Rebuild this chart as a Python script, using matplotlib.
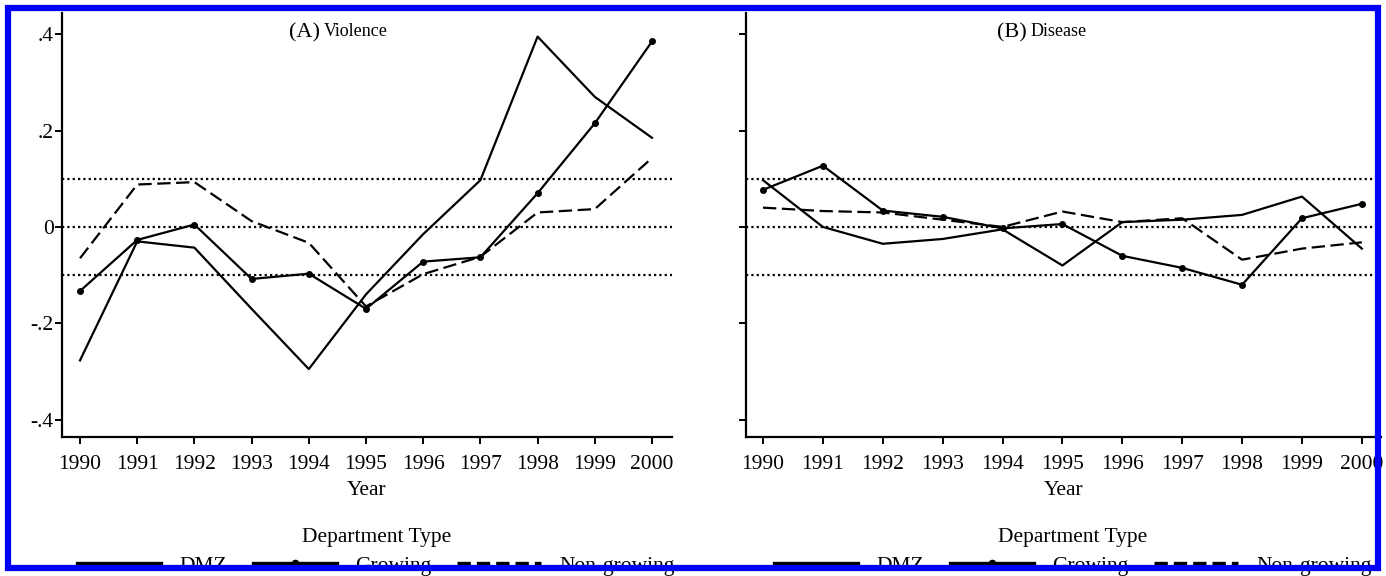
import numpy as np
import matplotlib
matplotlib.use('Agg')
import matplotlib.pyplot as plt
from matplotlib.lines import Line2D
from matplotlib.patches import Rectangle

plt.rcParams['font.family'] = ['Liberation Serif', 'DejaVu Serif']

# ------------------------------------------------------------
# DATA
# ------------------------------------------------------------
years = [1990, 1991, 1992, 1993, 1994, 1995, 1996, 1997, 1998, 1999, 2000]
year_labels = [str(y) for y in years]

# (A) Violence
viol_dmz = [-0.277, -0.030, -0.043, -0.170, -0.295, -0.140, -0.015, 0.097, 0.395, 0.270, 0.185]
viol_growing = [-0.133, -0.027, 0.005, -0.108, -0.097, -0.170, -0.072, -0.063, 0.070, 0.215, 0.385]
viol_nongrowing = [-0.065, 0.088, 0.093, 0.012, -0.033, -0.165, -0.098, -0.062, 0.030, 0.037, 0.143]

# (B) Disease
dis_dmz = [0.097, 0.000, -0.035, -0.025, -0.005, -0.080, 0.010, 0.015, 0.025, 0.063, -0.045]
dis_growing = [0.077, 0.127, 0.034, 0.021, -0.003, 0.006, -0.060, -0.085, -0.120, 0.018, 0.048]
dis_nongrowing = [0.040, 0.033, 0.030, 0.015, 0.000, 0.032, 0.010, 0.018, -0.068, -0.045, -0.032]

ref_levels = [-0.1, 0.0, 0.1]
y_ticks = [-0.4, -0.2, 0.0, 0.2, 0.4]
y_tick_labels = ['-.4', '-.2', '0', '.2', '.4']

series_names = ['DMZ', 'Growing', 'Non-growing']

# ------------------------------------------------------------
# STYLES
# ------------------------------------------------------------
LW = 1.6
styles = {
    'DMZ': dict(color='black', lw=LW, ls='-'),
    'Growing': dict(color='black', lw=LW, ls='-', marker='o', ms=4),
    'Non-growing': dict(color='black', lw=LW, ls=(0, (6, 2.5))),
}
# legend handles are drawn a bit heavier, as in the original
legend_styles = {
    'DMZ': dict(color='black', lw=2.4, ls='-'),
    'Growing': dict(color='black', lw=2.4, ls='-', marker='o', ms=4.5),
    'Non-growing': dict(color='black', lw=2.4, ls=(0, (4, 1.8))),
}

fig = plt.figure(figsize=(13.86, 5.76), dpi=100)
W, H = 1386, 576

def px_axes(x0, x1, ytop, ybot):
    return fig.add_axes([x0 / W, 1 - ybot / H, (x1 - x0) / W, (ybot - ytop) / H])

ax1 = px_axes(62, 672, 13, 437)
ax2 = px_axes(746, 1381, 13, 437)

panels = [
    (ax1, '(A)', 'Violence', [viol_dmz, viol_growing, viol_nongrowing], True,
     (1989.685, 2000.35)),
    (ax2, '(B)', 'Disease', [dis_dmz, dis_growing, dis_nongrowing], False,
     (1989.716, 2000.32)),
]

for ax, tag, name, data, show_ylabels, xlim in panels:
    for lev in ref_levels:
        ax.axhline(lev, color='black', lw=1.6, ls=(0, (1, 1.4)), zorder=1)
    for sname, vals in zip(series_names, data):
        ax.plot(years, vals, label=sname, zorder=3, **styles[sname])

    ax.set_xlim(*xlim)
    ax.set_ylim(-0.436, 0.444)
    ax.set_xticks(years)
    ax.set_xticklabels(year_labels)
    ax.set_yticks(y_ticks)
    ax.set_yticklabels(y_tick_labels if show_ylabels else [''] * len(y_ticks))
    for side in ['top', 'right']:
        ax.spines[side].set_visible(False)
    for side in ['left', 'bottom']:
        ax.spines[side].set_linewidth(1.6)
    ax.tick_params(axis='both', direction='out', length=5, width=1.4,
                   labelsize=15.5, colors='black')
    ax.tick_params(axis='x', pad=8)
    ax.tick_params(axis='y', pad=1)
    ax.set_xlabel('Year', fontsize=15.5, labelpad=5)

    t = ax.text(1993.65 if tag == '(A)' else 1993.9, 0.403, tag, fontsize=16,
                ha='left', va='center')
    ax.annotate(name, xy=(1, 0), xycoords=t, xytext=(3, 1.5),
                textcoords='offset points', fontsize=13, ha='left', va='bottom')

    handles = [Line2D([], [], **legend_styles[s]) for s in series_names]
    leg = ax.legend(handles, series_names, ncol=3, title='Department Type',
                    loc='upper center', bbox_to_anchor=(0.515, -0.19),
                    frameon=False, fontsize=15.5, title_fontsize=15.5,
                    handlelength=3.9, handletextpad=0.85, columnspacing=1.2,
                    borderpad=0, numpoints=1)
    leg._legend_box.sep = 6

# blue frame round the whole picture
fig.add_artist(Rectangle((8 / W, 8 / H), (W - 16) / W, (H - 16) / H,
                         transform=fig.transFigure, fill=False,
                         ec='#0000FF', lw=4.5, zorder=100))

fig.savefig('out.png', dpi=100, facecolor='white')
plt.close(fig)
